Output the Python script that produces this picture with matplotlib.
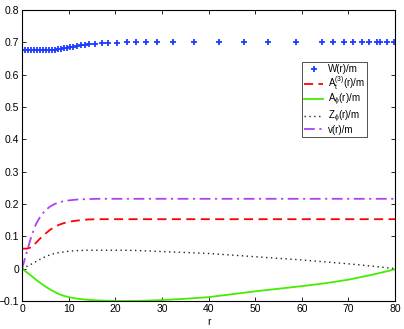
import matplotlib
matplotlib.use("Agg")
import matplotlib.pyplot as plt

plt.rcParams['font.family'] = ['Liberation Sans', 'DejaVu Sans']
plt.rcParams['mathtext.fontset'] = 'custom'
plt.rcParams['mathtext.rm'] = 'Liberation Sans'
plt.rcParams['mathtext.it'] = 'Liberation Sans'

# W(r)/m samples (markers)
r_w = [0, 0.64, 1.29, 1.93, 2.57, 3.22, 3.86, 4.50, 5.15, 5.79, 6.43, 7.08, 7.72, 8.36,
       9.01, 9.65, 10.3, 11.0, 11.7, 12.6, 13.5, 14.4, 15.7, 17.1, 18.5, 20.4, 22.5,
       24.5, 26.6, 28.9, 32.4, 36.9, 42.3, 47.6, 52.8, 58.8, 64.3, 66.7, 69.1, 71.0,
       73.0, 74.5, 76.2, 76.8, 78.3, 79.8]
w_vals = [0.677, 0.677, 0.677, 0.676, 0.676, 0.676, 0.675, 0.675, 0.675, 0.676, 0.676,
          0.677, 0.678, 0.679, 0.681, 0.682, 0.684, 0.686, 0.688, 0.690, 0.692, 0.694,
          0.696, 0.697, 0.698, 0.699, 0.700, 0.701, 0.701, 0.702, 0.702, 0.702, 0.702,
          0.702, 0.702, 0.702, 0.702, 0.702, 0.702, 0.702, 0.702, 0.702, 0.702, 0.702,
          0.702, 0.702]

# line samples
r_line = [0, 1, 2, 3, 4, 5, 6, 7, 8, 9, 10, 12, 14, 16, 18, 20, 22, 25, 30, 35, 40,
          45, 50, 55, 60, 65, 70, 75, 80]
a_t3 = [0.062, 0.062, 0.066, 0.080, 0.095, 0.108, 0.120, 0.129, 0.136, 0.141, 0.145,
        0.149, 0.152, 0.153, 0.153, 0.153, 0.153, 0.153, 0.153, 0.153, 0.153, 0.153,
        0.153, 0.153, 0.153, 0.153, 0.153, 0.153, 0.153]
a_phi = [0.0, -0.011, -0.022, -0.034, -0.045, -0.055, -0.064, -0.072, -0.079, -0.084,
         -0.088, -0.093, -0.096, -0.098, -0.099, -0.0995, -0.100, -0.0995, -0.097,
         -0.093, -0.088, -0.079, -0.070, -0.062, -0.054, -0.045, -0.034, -0.019, -0.002]
z_phi = [0.0, 0.007, 0.014, 0.022, 0.030, 0.037, 0.043, 0.047, 0.050, 0.052, 0.054,
         0.056, 0.057, 0.057, 0.057, 0.057, 0.057, 0.056, 0.053, 0.050, 0.047, 0.042,
         0.037, 0.032, 0.027, 0.021, 0.015, 0.008, 0.0]
v_vals = [0.0, 0.050, 0.100, 0.138, 0.163, 0.180, 0.192, 0.200, 0.205, 0.209, 0.211,
          0.214, 0.215, 0.216, 0.216, 0.216, 0.216, 0.216, 0.216, 0.216, 0.216, 0.216,
          0.216, 0.216, 0.216, 0.216, 0.216, 0.216, 0.216]

labels = ['W(r)/m', r'A$_\mathregular{t}^\mathregular{(3)}$(r)/m', r'A$_\phi$(r)/m',
          r'Z$_\phi$(r)/m', 'v(r)/m']
x_ticks = [0, 10, 20, 30, 40, 50, 60, 70, 80]
y_ticks = [-0.1, 0, 0.1, 0.2, 0.3, 0.4, 0.5, 0.6, 0.7, 0.8]
y_labels = ['\u22120.1', '0', '0.1', '0.2', '0.3', '0.4', '0.5', '0.6', '0.7', '0.8']

fig = plt.figure(figsize=(4.04, 3.29), dpi=100)
ax = fig.add_axes([0.0545, 0.085, 0.9235, 0.885])

ax.plot(r_w, w_vals, linestyle='none', marker='+', color='#1f3dff', markersize=5,
        markeredgewidth=1.3, label=labels[0])
ax.plot(r_line, a_t3, linestyle=(0, (5, 3)), color='#ff0000', lw=1.3, label=labels[1])
ax.plot(r_line, a_phi, linestyle='-', color='#44ee00', lw=1.3, label=labels[2])
ax.plot(r_line, z_phi, linestyle=(0, (1, 2.5)), color='#222222', lw=1.0, label=labels[3])
ax.plot(r_line, v_vals, linestyle=(0, (6, 2.5, 1.2, 2.5)), color='#b040f0', lw=1.3,
        label=labels[4])

ax.set_xlim(0, 80)
ax.set_ylim(-0.1, 0.8)
ax.set_xticks(x_ticks)
ax.set_yticks(y_ticks)
ax.set_yticklabels(y_labels)
ax.tick_params(direction='in', top=True, right=True, labelsize=7.5, length=3,
               width=0.6, pad=2)
for s in ax.spines.values():
    s.set_linewidth(0.8)
ax.set_xlabel('r', fontsize=7.5, labelpad=2)

leg = ax.legend(loc='upper left', bbox_to_anchor=(0.75, 0.82), fontsize=7,
                frameon=True, fancybox=False, edgecolor='black', handlelength=2.0,
                borderpad=0.2, labelspacing=0.0, handletextpad=0.5,
                borderaxespad=0)
leg.get_frame().set_linewidth(0.6)

fig.savefig('out.png', dpi=100)
